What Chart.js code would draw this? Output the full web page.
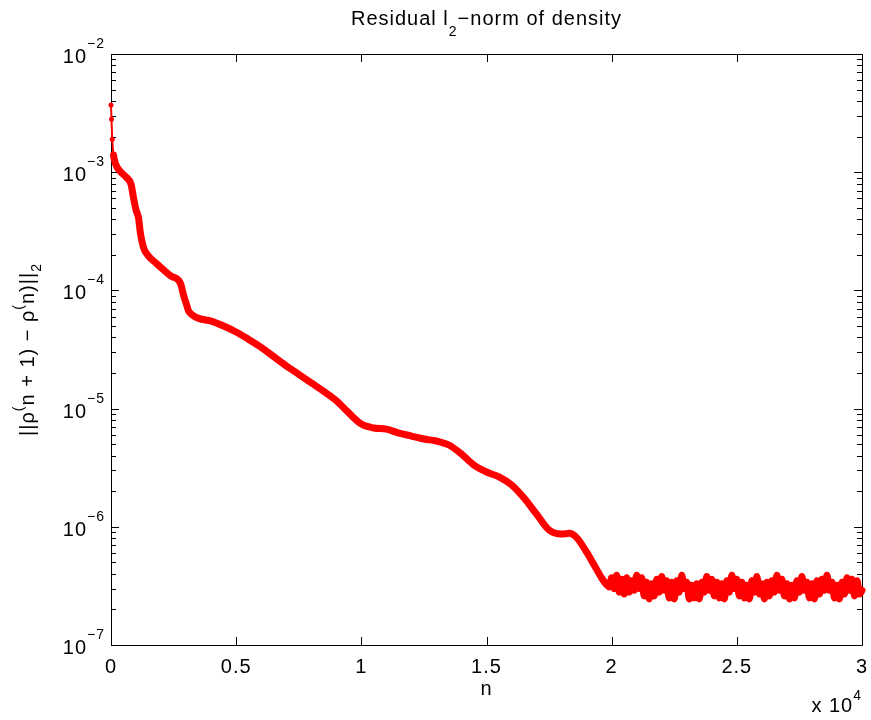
<!DOCTYPE html>
<html>
<head>
<meta charset="utf-8">
<script src="https://cdn.jsdelivr.net/npm/chart.js@4"></script>
<style>
  html, body { margin: 0; padding: 0; background: #fff; }
  #wrap { width: 871px; height: 720px; position: relative; }
</style>
</head>
<body>
<div id="wrap"><canvas id="residualChart"></canvas></div>
<script>
// decay phase: iteration n and residual ||rho(n+1) - rho(n)||_2
const decayN = [0, 20, 50, 100, 200, 400, 600, 800, 900, 1000, 1100, 1170, 1300, 1500, 1800, 2100, 2400, 2700, 2800, 2900,
    3000, 3100, 3250, 3500, 4000, 4500, 5000, 5500, 6000, 6500, 7000, 7500, 8000, 8500, 9000, 9500, 10000, 10500, 11000, 11500,
    12000, 12500, 13000, 13500, 14000, 14500, 15000, 15500, 16000, 16500, 17000, 17500, 18000, 18300, 18600, 19000, 19300, 19600, 19800];
const decayRes = [3.7e-3, 2.8e-3, 1.9e-3, 1.4e-3, 1.15e-3, 1.0e-3, 9.1e-4, 7.9e-4, 6.05e-4, 4.8e-4, 4.1e-4, 3.1e-4, 2.3e-4, 1.95e-4, 1.7e-4, 1.49e-4, 1.32e-4, 1.22e-4, 1.11e-4, 9.1e-5,
    7.8e-5, 6.7e-5, 6.2e-5, 5.8e-5, 5.5e-5, 5.0e-5, 4.45e-5, 3.85e-5, 3.3e-5, 2.75e-5, 2.3e-5, 1.95e-5, 1.65e-5, 1.4e-5, 1.17e-5, 9.2e-6, 7.4e-6, 6.85e-6, 6.7e-6, 6.2e-6,
    5.86e-6, 5.53e-6, 5.32e-6, 4.92e-6, 4.13e-6, 3.33e-6, 2.91e-6, 2.64e-6, 2.26e-6, 1.75e-6, 1.28e-6, 9.4e-7, 8.7e-7, 8.8e-7, 8.1e-7, 6.1e-7, 4.75e-7, 3.69e-7, 3.23e-7];

// plateau phase, residual in units of 1e-7
const plateauN = [19900, 20000, 20100, 20200, 20300, 20400, 20500, 20600, 20700, 20800, 20900,
    21000, 21100, 21200, 21300, 21400, 21500, 21600, 21700, 21800, 21900,
    22000, 22100, 22200, 22300, 22400, 22500, 22600, 22700, 22800, 22900,
    23000, 23100, 23200, 23300, 23400, 23500, 23600, 23700, 23800, 23900,
    24000, 24100, 24200, 24300, 24400, 24500, 24600, 24700, 24800, 24900,
    25000, 25100, 25200, 25300, 25400, 25500, 25600, 25700, 25800, 25900,
    26000, 26100, 26200, 26300, 26400, 26500, 26600, 26700, 26800, 26900,
    27000, 27100, 27200, 27300, 27400, 27500, 27600, 27700, 27800, 27900,
    28000, 28100, 28200, 28300, 28400, 28500, 28600, 28700, 28800, 28900,
    29000, 29100, 29200, 29300, 29400, 29500, 29600, 29700, 29800, 29900, 30000];
const plateauRes = [3.1, 3.7, 3.0, 3.9, 2.8, 3.6, 2.7, 3.7, 2.8, 3.5, 2.9,
    3.9, 3.0, 3.7, 2.6, 3.4, 2.45, 3.3, 2.6, 3.6, 2.8,
    3.8, 2.9, 3.5, 2.5, 3.4, 2.45, 3.5, 2.8, 3.9, 3.0,
    3.4, 2.45, 3.2, 2.5, 3.3, 2.45, 3.4, 2.8, 3.8, 2.9,
    3.6, 2.6, 3.4, 2.5, 3.3, 2.45, 3.5, 2.8, 3.9, 3.0,
    3.6, 2.6, 3.4, 2.5, 3.2, 2.45, 3.5, 2.8, 3.8, 2.7,
    3.3, 2.45, 3.4, 2.6, 3.5, 2.8, 3.9, 2.9, 3.6, 2.6,
    3.3, 2.45, 3.2, 2.5, 3.5, 2.8, 3.8, 2.9, 3.4, 2.5,
    3.3, 2.45, 3.5, 2.7, 3.6, 2.9, 3.9, 2.9, 3.4, 2.5,
    3.2, 2.45, 3.4, 2.7, 3.7, 2.9, 3.6, 2.6, 3.5, 2.7, 2.9];

const xTickValues = [0, 5000, 10000, 15000, 20000, 25000, 30000];
const xTickLabels = ['0', '0.5', '1', '1.5', '2', '2.5', '3'];
const yTickExponents = [-2, -3, -4, -5, -6, -7];

const FONT = '"Liberation Sans", Arial, Helvetica, sans-serif';

const points = decayN.map((n, i) => ({ x: n, y: decayRes[i] }))
    .concat(plateauN.map((n, i) => ({ x: n, y: plateauRes[i] * 1e-7 })));

// draws text made of pieces [text, size, baselineShift]
function drawRich(ctx, parts, x, y, align) {
    let total = 0;
    parts.forEach(p => {
        ctx.font = p[1] + 'px ' + FONT;
        total += ctx.measureText(p[0]).width;
    });
    let cx = x;
    if (align === 'center') cx = x - total / 2;
    if (align === 'right') cx = x - total;
    parts.forEach(p => {
        ctx.font = p[1] + 'px ' + FONT;
        ctx.fillText(p[0], cx, y + p[2]);
        cx += ctx.measureText(p[0]).width;
    });
}

const matlabAxes = {
    id: 'matlabAxes',
    beforeDatasetsDraw(chart) {
        const ctx = chart.ctx;
        const a = chart.chartArea;
        const xs = chart.scales.x, ys = chart.scales.y;
        ctx.save();
        ctx.strokeStyle = '#000';
        ctx.lineWidth = 1;
        ctx.beginPath();
        ctx.rect(a.left + 0.5, a.top + 0.5, a.right - a.left, a.bottom - a.top);
        // x ticks, pointing inward on bottom and top
        xTickValues.forEach(v => {
            const px = Math.round(xs.getPixelForValue(v)) + 0.5;
            ctx.moveTo(px, a.bottom);
            ctx.lineTo(px, a.bottom - 8);
            ctx.moveTo(px, a.top);
            ctx.lineTo(px, a.top + 8);
        });
        // y ticks: decades long, 2..9 short
        yTickExponents.forEach(e => {
            for (let k = 1; k <= 9; k++) {
                const v = k * Math.pow(10, e);
                if (v > ys.max * 1.0001) continue;
                const py = Math.round(ys.getPixelForValue(v)) + 0.5;
                const len = k === 1 ? 8 : 5;
                ctx.moveTo(a.left, py);
                ctx.lineTo(a.left + len, py);
                ctx.moveTo(a.right, py);
                ctx.lineTo(a.right - len, py);
            }
        });
        ctx.stroke();
        ctx.restore();
    },
    afterDraw(chart) {
        const ctx = chart.ctx;
        const a = chart.chartArea;
        const xs = chart.scales.x, ys = chart.scales.y;
        const midX = (a.left + a.right) / 2;
        const midY = (a.top + a.bottom) / 2;
        ctx.save();
        ctx.fillStyle = '#000';
        ctx.textBaseline = 'alphabetic';
        ctx.textAlign = 'left';
        ctx.letterSpacing = '1px';

        // title
        drawRich(ctx, [['Residual l', 20, 0], ['2', 14, 11], ['\u2212norm of density', 20, 0]], midX, 25, 'center');

        // x tick labels
        xTickValues.forEach((v, i) => {
            drawRich(ctx, [[xTickLabels[i], 20, 0]], xs.getPixelForValue(v), a.bottom + 28, 'center');
        });
        // y tick labels 10^e
        yTickExponents.forEach(e => {
            const py = ys.getPixelForValue(Math.pow(10, e));
            drawRich(ctx, [['10', 20, 0], ['\u2212' + Math.abs(e), 14, -15]], a.left - 6, py + 9, 'right');
        });

        // x label and multiplier
        drawRich(ctx, [['n', 20, 0]], midX, a.bottom + 50, 'center');
        drawRich(ctx, [['x 10', 20, 0], ['4', 14, -12]], a.right, a.bottom + 67, 'right');

        // y label, rotated
        ctx.translate(34, midY);
        ctx.rotate(-Math.PI / 2);
        drawRich(ctx, [['||\u03c1', 20, 0], ['(', 14, -11], ['n + 1) \u2212 \u03c1', 20, 0], ['(', 14, -11], ['n)||', 20, 0], ['2', 14, 7]], 0, 0, 'center');
        ctx.restore();
    }
};

const ctx = document.getElementById('residualChart').getContext('2d');
new Chart(ctx, {
    type: 'line',
    data: {
        datasets: [{
            data: points,
            borderColor: '#ff0000',
            backgroundColor: '#ff0000',
            borderWidth: 7,
            borderJoinStyle: 'round',
            borderCapStyle: 'round',
            pointRadius: 2.5,
            pointBorderWidth: 0,
            pointBackgroundColor: '#ff0000',
            cubicInterpolationMode: 'monotone',
            clip: false,
            segment: {
                borderWidth: c => (c.p0DataIndex < 3 ? 2 : undefined)
            }
        }]
    },
    options: {
        responsive: true,
        maintainAspectRatio: false,
        animation: false,
        layout: { padding: { left: 111, right: 9, top: 54, bottom: 75 } },
        plugins: {
            legend: { display: false },
            title: { display: false },
            tooltip: { enabled: false }
        },
        scales: {
            x: { type: 'linear', min: 0, max: 30000, display: false },
            y: { type: 'logarithmic', min: 1e-7, max: 1e-2, display: false }
        }
    },
    plugins: [matlabAxes]
});
</script>
</body>
</html>
